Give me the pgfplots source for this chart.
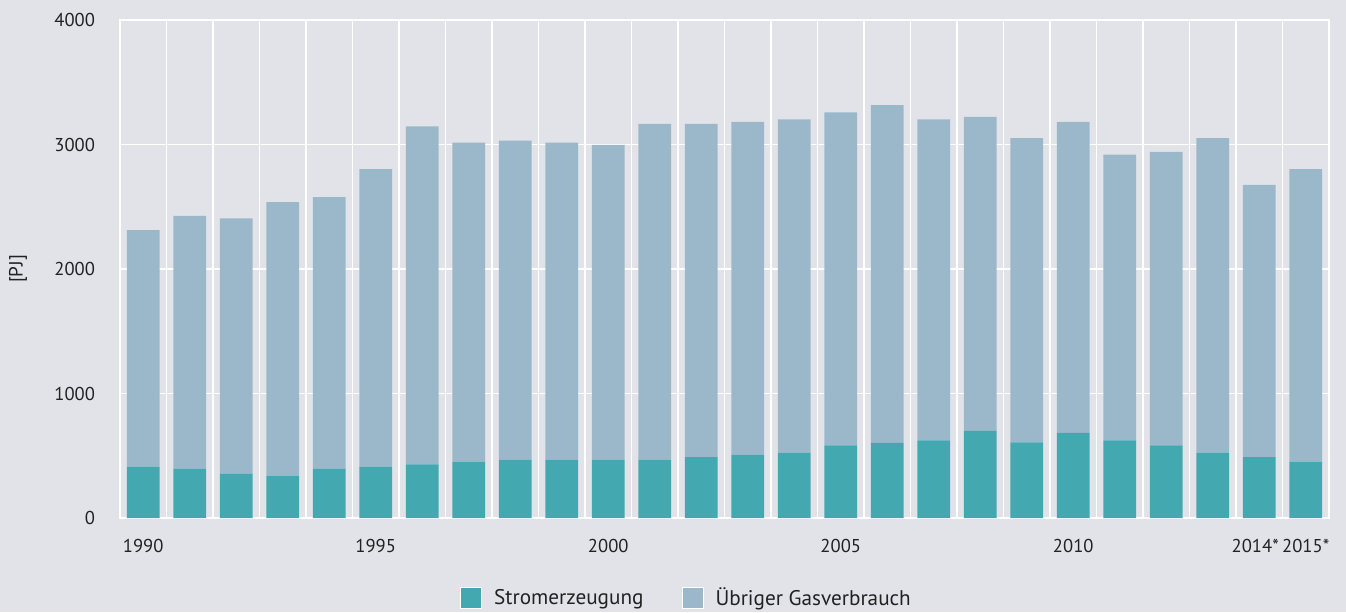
\documentclass[border=0pt]{standalone}
\usepackage{pgfplots}
\pgfplotsset{compat=1.18}
\usepackage{pgfplotstable}
\usepackage{fontspec}
\setmainfont{PT Sans}
\definecolor{bgcol}{HTML}{E1E3E8}
\definecolor{teal1}{HTML}{43A8B0}
\definecolor{grayblue}{HTML}{9BB8CA}
\definecolor{txt}{HTML}{222222}
\pgfplotstableread{
x strom other
0 412 1901
1 396 2030
2 355 2052
3 336 2202
4 396 2182
5 412 2391
6 431 2715
7 453 2562
8 469 2562
9 469 2546
10 469 2527
11 469 2696
12 488 2677
13 509 2672
14 526 2676
15 583 2675
16 604 2713
17 623 2579
18 699 2522
19 607 2445
20 683 2498
21 623 2295
22 583 2357
23 526 2526
24 488 2187
25 453 2350
}\datatable
\begin{document}
\begin{tikzpicture}
\fill[bgcol] (0,0) rectangle (673pt,306pt);
\useasboundingbox (0,0) rectangle (673pt,306pt);
\begin{axis}[
  at={(60pt,47pt)}, anchor=south west,
  scale only axis, width=604.5pt, height=249pt,
  ybar stacked, bar width=0.7,
  xmin=-0.5, xmax=25.5, ymin=0, ymax=4000,
  xtick={0,5,10,15,20,24,25},
  xticklabels={1990,1995,2000,2005,2010,\makebox[0pt]{\hspace*{-4pt}2014*},2015*},
  minor xtick={-0.5,0.5,...,25.5},
  ytick={0,1000,2000,3000,4000},
  xminorgrids=true, xmajorgrids=false, ymajorgrids=true,
  grid style={white, line width=0.8pt},
  minor grid style={white, line width=0.8pt},
  axis line style={white, line width=0.8pt},
  major tick length=0pt, minor tick length=0pt,
  tick style={draw=none},
  axis background/.style={fill=bgcol},
  /pgf/number format/assume math mode=true,
  /pgf/number format/1000 sep={},
  every tick label/.append style={font=\fontsize{9.3}{11}\selectfont, text=txt},
  yticklabel style={anchor=east, xshift=-9pt},
  xticklabel style={anchor=north, yshift=-7pt},
  ylabel={[PJ]},
  ylabel style={at={(axis description cs:-0.0844,0.5)}, anchor=center, font=\fontsize{9.6}{11}\selectfont, text=txt},
  legend columns=2,
  legend style={draw=none, fill=none, at={(axis description cs:0.4694,-0.161)}, anchor=center,
    font=\fontsize{10.6}{12}\selectfont, text=txt,
    /tikz/every odd column/.append style={column sep=4pt},
    /tikz/every even column/.append style={column sep=17pt}},
  legend image code/.code={\draw[#1,draw=white,line width=0.5pt] (0pt,-5.25pt) rectangle (10.5pt,5.25pt);},
  legend cell align=left,
]
\addplot[fill=teal1, draw=none] table[x=x, y=strom] {\datatable};
\addplot[fill=grayblue, draw=none] table[x=x, y=other] {\datatable};
\legend{Stromerzeugung, Übriger Gasverbrauch}
\end{axis}
\end{tikzpicture}
\end{document}
